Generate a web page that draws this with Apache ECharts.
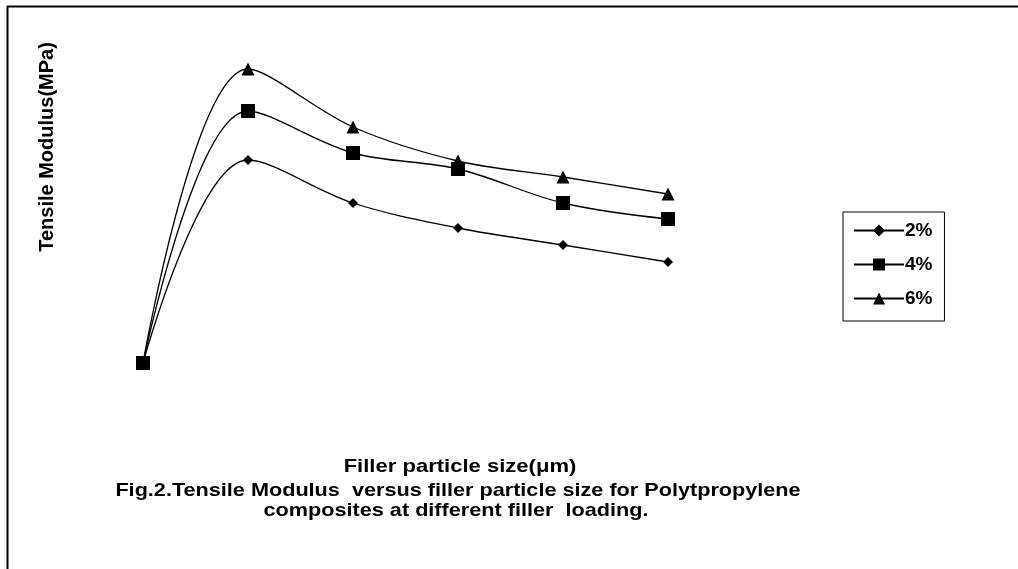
<!DOCTYPE html>
<html>
<head>
<meta charset="utf-8">
<script src="https://cdn.jsdelivr.net/npm/echarts@6/dist/echarts.min.js"></script>
<style>
  html, body { margin: 0; padding: 0; background: #fff; }
  #chart { width: 1018px; height: 569px; }
</style>
</head>
<body>
<div id="chart"></div>
<script>
// particle size steps (no tick labels shown in the figure)
var sizes = ['0', '1', '2', '3', '4', '5'];
// tensile modulus readings, arbitrary units
var load2 = [0, 203, 160, 135, 118, 101];
var load4 = [0, 252, 210, 194, 160, 144];
var load6 = [0, 294, 236, 202, 186, 169];

var font = 'Liberation Sans, Arial, sans-serif';

var chart = echarts.init(document.getElementById('chart'), null, { renderer: 'canvas' });

function line(name, data, symbol, size) {
  return {
    name: name,
    type: 'line',
    data: data,
    smooth: 0.35,
    symbol: symbol,
    symbolSize: size,
    showSymbol: true,
    lineStyle: { color: '#000', width: 1.3 },
    itemStyle: { color: '#000' },
    animation: false
  };
}

// text in the figure is a little stretched sideways
function label(txt, x, y, size, sx) {
  return {
    type: 'text', x: x, y: y, scaleX: sx,
    style: { text: txt, font: 'bold ' + size + 'px ' + font, fill: '#000', align: 'center', verticalAlign: 'middle' }
  };
}

chart.setOption({
  backgroundColor: '#fff',
  animation: false,
  grid: { left: 143, right: 350, top: 63, bottom: 206 },
  xAxis: {
    type: 'category',
    data: sizes,
    boundaryGap: false,
    show: false
  },
  yAxis: {
    type: 'value',
    min: 0,
    max: 300,
    show: false
  },
  legend: {
    orient: 'vertical',
    left: 843,
    top: 212,
    padding: [9, 12, 13, 10],
    itemGap: 15,
    itemWidth: 50,
    itemHeight: 15,
    borderColor: '#000',
    borderWidth: 1,
    textStyle: { fontFamily: font, fontWeight: 'bold', fontSize: 19, color: '#000', padding: [0, 0, 0, -4] },
    data: ['2%', '4%', '6%']
  },
  series: [
    line('2%', load2, 'diamond', 10),
    line('4%', load4, 'rect', 14),
    line('6%', load6, 'triangle', 13)
  ],
  graphic: [
    { type: 'line', shape: { x1: 7, y1: 6.5, x2: 1018, y2: 6.5 }, style: { stroke: '#000', lineWidth: 2 } },
    { type: 'line', shape: { x1: 7.5, y1: 6, x2: 7.5, y2: 569 }, style: { stroke: '#000', lineWidth: 2 } },
    {
      type: 'text', x: 47, y: 147, rotation: Math.PI / 2,
      style: { text: 'Tensile Modulus(MPa)', font: 'bold 20px ' + font, fill: '#000', align: 'center', verticalAlign: 'middle' }
    },
    label('Filler particle size(μm)', 460, 467, 19, 1.16),
    label('Fig.2.Tensile Modulus  versus filler particle size for Polytpropylene', 458, 491, 18.5, 1.17),
    label('composites at different filler  loading.', 456, 511, 18.5, 1.17)
  ]
});
</script>
</body>
</html>
